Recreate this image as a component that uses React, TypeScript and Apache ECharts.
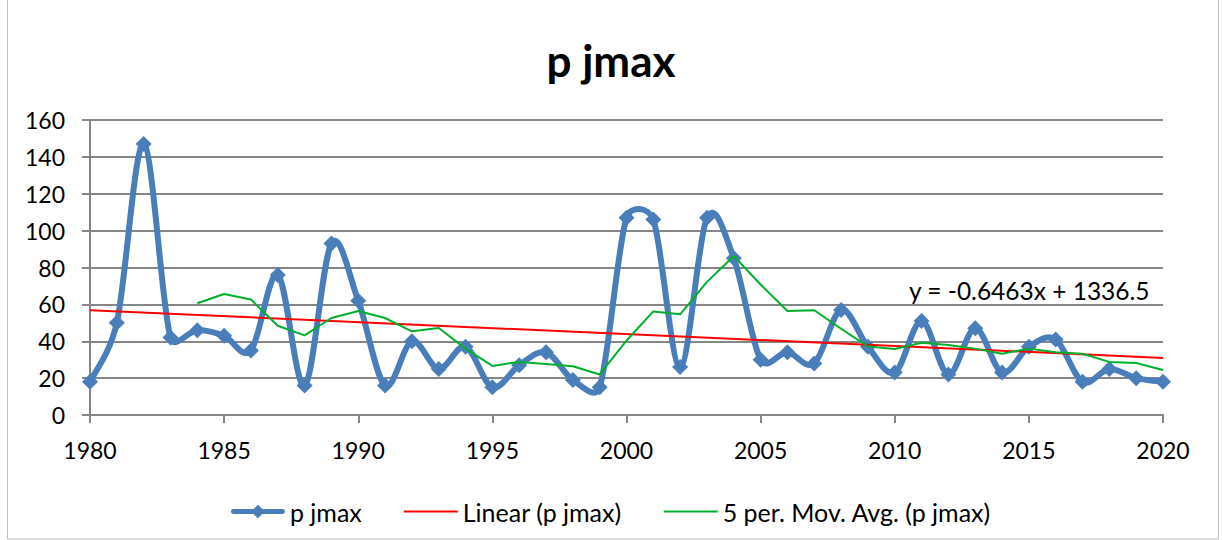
import React, { useEffect, useRef } from "react";
import * as echarts from "echarts";

const years: number[] = [];
for (let y = 1980; y <= 2020; y++) years.push(y);

const pJmax = [
  18, 50, 147, 42, 46, 43, 35, 76, 16, 93,
  62, 16, 40, 25, 37, 15, 27, 34, 19, 15,
  107, 106, 26, 107, 85, 30, 34, 28, 57, 37,
  23, 51, 22, 47, 23, 37, 41, 18, 25, 20,
  18,
];

const trendSlope = -0.6463;
const trendIntercept = 1336.5;
const maPeriod = 5;
const xTicks = [1980, 1985, 1990, 1995, 2000, 2005, 2010, 2015, 2020];
const yTicks = [0, 20, 40, 60, 80, 100, 120, 140, 160];

const FONT = "Lato, 'Open Sans', sans-serif";
const BLUE = "#4a7ebb";
const RED = "#ff0000";
const GREEN = "#00b02c";

const lineIcon = "path://M0 6H54V8H0Z M0 0L0.01 0L0 0.01Z M0 14L0.01 14L0 13.99Z";
const mainIcon = "path://M2 4.5H52A2.5 2.5 0 0 1 52 9.5H2A2.5 2.5 0 0 1 2 4.5Z M27 0L34 7L27 14L20 7Z";

export default function App() {
  const ref = useRef<HTMLDivElement>(null);
  useEffect(() => {
    if (!ref.current) return;
    const chart = echarts.init(ref.current, null, { renderer: "svg" });
    const mainData = years.map((y, i) => [y, pJmax[i]]);
    const linData = [years[0], years[years.length - 1]].map((y) => [y, trendSlope * y + trendIntercept]);
    const maData: number[][] = [];
    for (let i = maPeriod - 1; i < years.length; i++) {
      let s = 0;
      for (let k = 0; k < maPeriod; k++) s += pJmax[i - k];
      maData.push([years[i], s / maPeriod]);
    }
    const n = years.length;
    const renderMain = (params: any, api: any) => {
      const i = params.dataIndex;
      const P = (k: number) => api.coord([years[k], pJmax[k]]);
      const dist = (a: number[], b: number[]) => Math.hypot(a[0] - b[0], a[1] - b[1]);
      const p1 = P(i);
      const children: any[] = [];
      if (i < n - 1) {
        const p2 = P(i + 1);
        const p0 = i > 0 ? P(i - 1) : p1;
        const p3 = i + 2 < n ? P(i + 2) : p2;
        const d12 = dist(p1, p2);
        const d02 = dist(p0, p2);
        const d13 = dist(p1, p3);
        let f1 = 1 / 6;
        let f2 = 1 / 6;
        if (d02 > 0 && d02 * f1 > d12 / 2) f1 = d12 / 2 / d02;
        if (d13 > 0 && d13 * f2 > d12 / 2) f2 = d12 / 2 / d13;
        children.push({
          type: "bezierCurve",
          shape: {
            x1: p1[0], y1: p1[1], x2: p2[0], y2: p2[1],
            cpx1: p1[0] + f1 * (p2[0] - p0[0]), cpy1: p1[1] + f1 * (p2[1] - p0[1]),
            cpx2: p2[0] - f2 * (p3[0] - p1[0]), cpy2: p2[1] - f2 * (p3[1] - p1[1]),
          },
          style: { stroke: BLUE, lineWidth: 6, fill: "none", lineCap: "round" },
        });
      }
      const r = 8;
      children.push({
        type: "polygon",
        shape: { points: [[p1[0], p1[1] - r], [p1[0] + r, p1[1]], [p1[0], p1[1] + r], [p1[0] - r, p1[1]]] },
        style: { fill: BLUE },
      });
      return { type: "group", children };
    };
    chart.setOption({
      animation: false,
      backgroundColor: "#ffffff",
      title: {
        text: "p jmax",
        left: "center",
        top: 33,
        textStyle: { fontFamily: FONT, fontSize: 44, fontWeight: "bold", color: "#000" },
      },
      graphic: [
        {
          type: "rect",
          shape: { x: 7.5, y: -2, width: 1211, height: 541 },
          style: { fill: "none", stroke: "#bfbfbf", lineWidth: 1 },
          silent: true,
        },
        {
          type: "text",
          left: 909,
          top: 278,
          style: { text: "y = -0.6463x + 1336.5", fontFamily: FONT, fontSize: 24.5, fill: "#000" },
          z: 100,
        },
      ],
      grid: { left: 90, right: 59, top: 120, bottom: 125 },
      xAxis: {
        type: "value",
        min: xTicks[0],
        max: xTicks[xTicks.length - 1],
        interval: 5,
        axisLine: { show: true, lineStyle: { color: "#868686", width: 2 } },
        axisTick: { show: true, length: 8, lineStyle: { color: "#868686", width: 2 } },
        splitLine: { show: false },
        axisLabel: { color: "#000", fontFamily: FONT, fontSize: 23, margin: 23, formatter: (v: number) => String(v) },
      },
      yAxis: {
        type: "value",
        min: yTicks[0],
        max: yTicks[yTicks.length - 1],
        interval: 20,
        axisLine: { show: true, lineStyle: { color: "#868686", width: 2 } },
        axisTick: { show: true, length: 8, lineStyle: { color: "#868686", width: 2 } },
        splitLine: { show: true, lineStyle: { color: "#868686", width: 2 } },
        axisLabel: { color: "#000", fontFamily: FONT, fontSize: 23, margin: 25 },
      },
      legend: {
        top: 494,
        left: "center",
        itemWidth: 54,
        itemHeight: 14,
        itemGap: 42,
        itemStyle: { borderWidth: 0 },
        textStyle: { fontFamily: FONT, fontSize: 25, color: "#000" },
        data: [
          { name: "p jmax", icon: mainIcon },
          { name: "Linear (p jmax)", icon: lineIcon },
          { name: "5 per. Mov. Avg. (p jmax)", icon: lineIcon },
        ],
      },
      series: [
        {
          name: "p jmax",
          type: "custom",
          data: mainData,
          encode: { x: 0, y: 1 },
          renderItem: renderMain,
          clip: false,
          itemStyle: { color: BLUE },
          z: 3,
        },
        {
          name: "Linear (p jmax)",
          type: "line",
          data: linData,
          symbol: "none",
          itemStyle: { color: RED },
          lineStyle: { color: RED, width: 2 },
          z: 4,
        },
        {
          name: "5 per. Mov. Avg. (p jmax)",
          type: "line",
          data: maData,
          symbol: "none",
          itemStyle: { color: GREEN },
          lineStyle: { color: GREEN, width: 2 },
          z: 5,
        },
      ],
    });
    return () => chart.dispose();
  }, []);
  return <div ref={ref} style={{ width: 1222, height: 540, position: "absolute", left: 0, top: 0 }} />;
}
